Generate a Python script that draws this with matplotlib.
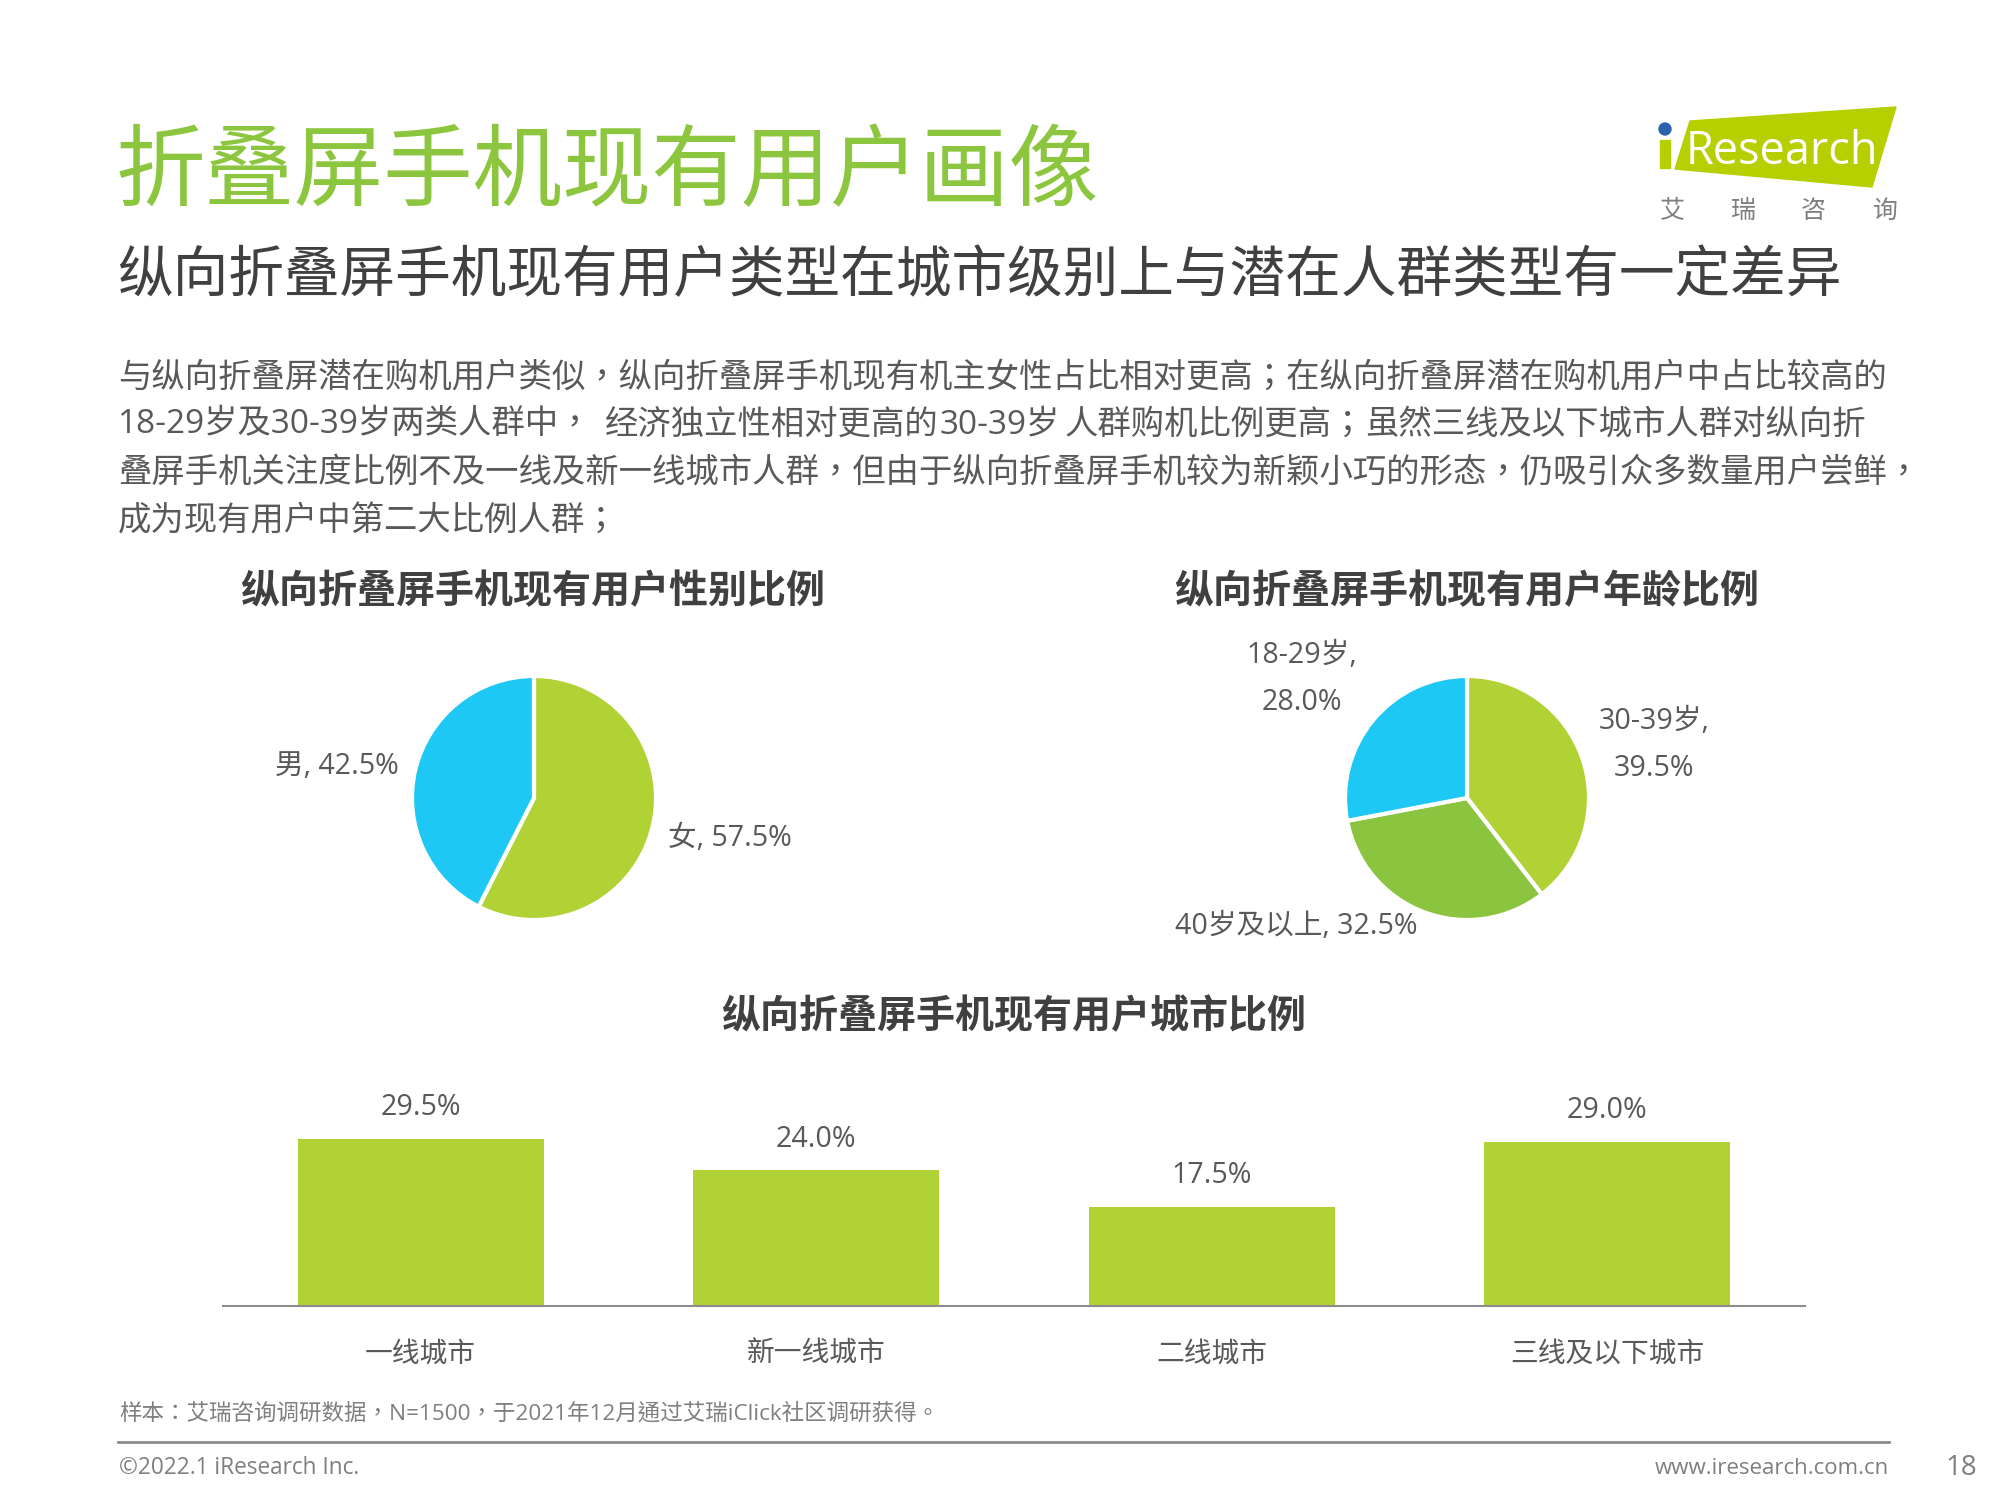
import matplotlib
matplotlib.use("Agg")
from matplotlib import pyplot as plt
from matplotlib.patches import Polygon, Circle, Rectangle

plt.rcParams["font.family"] = ["Open Sans", "Noto Sans CJK SC", "DejaVu Sans"]

W, H = 2000, 1500

title = "折叠屏手机现有用户画像"
subtitle = "纵向折叠屏手机现有用户类型在城市级别上与潜在人群类型有一定差异"
body_line1 = "与纵向折叠屏潜在购机用户类似，纵向折叠屏手机现有机主女性占比相对更高；在纵向折叠屏潜在购机用户中占比较高的"
body_line2 = ["18-29岁及30-39岁两类人群中，", "经济独立性相对更高的", "30-39岁", "人群购机比例更高；", "虽然三线及以下城市人群对纵向折"]
body_line3 = "叠屏手机关注度比例不及一线及新一线城市人群，但由于纵向折叠屏手机较为新颖小巧的形态，仍吸引众多数量用户尝鲜，"
body_line4 = "成为现有用户中第二大比例人群；"

gender_title = "纵向折叠屏手机现有用户性别比例"
gender_labels = ["女, 57.5%", "男, 42.5%"]
gender_values = [57.5, 42.5]

age_title = "纵向折叠屏手机现有用户年龄比例"
age_labels = ["30-39岁,\n39.5%", "40岁及以上, 32.5%", "18-29岁,\n28.0%"]
age_values = [39.5, 32.5, 28.0]

city_title = "纵向折叠屏手机现有用户城市比例"
city_labels = ["一线城市", "新一线城市", "二线城市", "三线及以下城市"]
city_values = [29.5, 24.0, 17.5, 29.0]

note = "样本：艾瑞咨询调研数据，N=1500，于2021年12月通过艾瑞iClick社区调研获得。"
copyright_text = "©2022.1 iResearch Inc."
website = "www.iresearch.com.cn"
page = "18"

LIME = "#B0D235"
CYAN = "#1EC8F5"
GREEN = "#8BC53F"
DARK = "#404040"
TEXT = "#595959"
GREY = "#7F7F7F"
# centred full-width punctuation, like the reference
BODY_FONT = ["Open Sans", "Noto Sans CJK TC", "DejaVu Sans"]


def px_axes(fig, left, top, right, bottom):
    return fig.add_axes([left / W, 1 - bottom / H, (right - left) / W, (bottom - top) / H])


def draw_pie(fig, cx, cy, r, values, colors):
    ax = px_axes(fig, cx - r, cy - r, cx + r, cy + r)
    ax.pie(values, colors=colors, startangle=90, counterclock=False, radius=1,
           wedgeprops={"edgecolor": "white", "linewidth": 3})
    ax.set_xlim(-1, 1)
    ax.set_ylim(-1, 1)


fig = plt.figure(figsize=(20, 15), dpi=100, facecolor="white")

# page layer in pixel coordinates
page_ax = fig.add_axes([0, 0, 1, 1])
page_ax.set_xlim(0, W)
page_ax.set_ylim(H, 0)
page_ax.axis("off")


def put(x, y, s, size, color=TEXT, ha="left", **kw):
    page_ax.text(x, y, s, fontsize=size, color=color, ha=ha, va="center", **kw)


put(116, 176, title, 64.4, color="#8CC63F")
put(117, 278, subtitle, 40.1, color=DARK)
put(118, 378, body_line1, 24, family=BODY_FONT)
for x, part in zip([118, 605, 940, 1065, 1365], body_line2):
    put(x, 425, part, 24, family=BODY_FONT)
put(118, 473, body_line3, 24, family=BODY_FONT)
put(118, 522, body_line4, 24, family=BODY_FONT)

put(533, 593, gender_title, 28.1, color=DARK, ha="center", fontweight="bold")
put(1467, 593, age_title, 28.1, color=DARK, ha="center", fontweight="bold")
put(1014, 1018, city_title, 28.1, color=DARK, ha="center", fontweight="bold")

# labels around the pies
put(730, 839, gender_labels[0], 20.6, ha="center")
put(337, 767, gender_labels[1], 20.6, ha="center")
page_ax.text(1654, 745, age_labels[0], fontsize=20.6, color=TEXT, ha="center", va="center", linespacing=1.8)
put(1296, 927, age_labels[1], 20.6, ha="center")
page_ax.text(1302, 679, age_labels[2], fontsize=20.6, color=TEXT, ha="center", va="center", linespacing=1.8)

# logo
page_ax.add_patch(Polygon([(1690, 121), (1896, 107), (1872, 187), (1675, 169)], color="#B5CF00"))
page_ax.add_patch(Rectangle((1660, 140), 10, 28, color="#B5CF00"))
page_ax.add_patch(Circle((1665, 129), 6, color="#2A62B0"))
page_ax.text(1686, 164, "Research", fontsize=32.5, color="white", ha="left", va="baseline")
for x, ch in zip([1672, 1743, 1813, 1885], "艾瑞咨询"):
    put(x, 211, ch, 18, color=GREY, ha="center")

# footer
put(119, 1414, note, 16.2, color=GREY, family=BODY_FONT)
page_ax.plot([118, 1889], [1442, 1442], color="#8C8C8C", lw=2)
put(119, 1468, copyright_text, 16.3, color=GREY)
put(1889, 1468, website, 16, color=GREY, ha="right")
put(1961, 1468, page, 20, color=GREY, ha="center")

draw_pie(fig, 534, 798, 122, gender_values, [LIME, CYAN])
draw_pie(fig, 1467, 798, 122, age_values, [LIME, GREEN, CYAN])

# city bars
ax = px_axes(fig, 223, 1108, 1805, 1306)
ax.patch.set_alpha(0)
bars = ax.bar(range(len(city_values)), city_values, width=0.623, color=LIME)
ax.bar_label(bars, labels=[f"{v:.1f}%" for v in city_values], padding=12, fontsize=20.6, color=TEXT)
ax.set_xlim(-0.5, 3.5)
ax.set_ylim(0, 35)
ax.set_xticks(range(len(city_labels)))
ax.set_xticklabels(city_labels, fontsize=20, color=TEXT)
ax.tick_params(axis="x", length=0, pad=25)
ax.set_yticks([])
for side in ["top", "left", "right"]:
    ax.spines[side].set_visible(False)
ax.spines["bottom"].set_color("#8C8C8C")
ax.spines["bottom"].set_linewidth(1.5)

fig.savefig("out.png", dpi=100)
